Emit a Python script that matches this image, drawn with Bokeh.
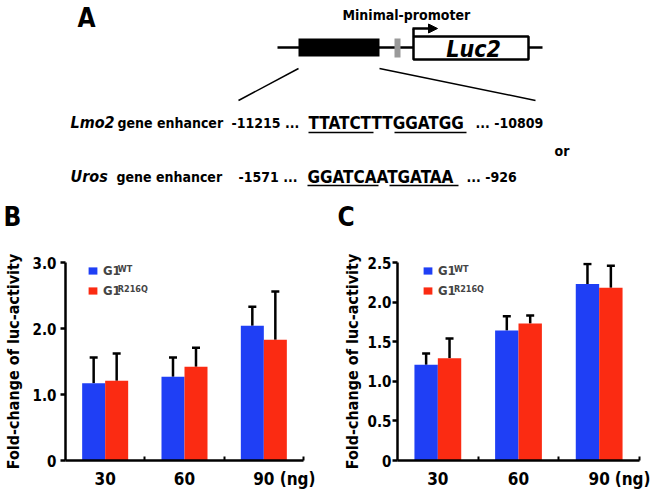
from bokeh.plotting import figure
from bokeh.models import (Range1d, FixedTicker, ColumnDataSource, Whisker, TeeHead,
                          Legend, LegendItem, Label, Arrow, NormalHead)
from bokeh.layouts import column, row
from bokeh.embed import file_html
from bokeh.resources import INLINE
from bokeh.core.properties import value

# ---------------- data ----------------
doses = ["30", "60", "90"]
dose_pos = [1, 2, 3]
unit_label = "(ng)"
series_labels = ["G1", "G1"]
series_sup = ["WT", "R216Q"]

wt_B = [1.17, 1.27, 2.04]
wt_B_sd = [0.39, 0.29, 0.29]
mut_B = [1.21, 1.42, 1.83]
mut_B_sd = [0.41, 0.29, 0.73]

wt_C = [1.21, 1.64, 2.23]
wt_C_sd = [0.14, 0.18, 0.25]
mut_C = [1.29, 1.73, 2.18]
mut_C_sd = [0.25, 0.10, 0.28]

yticks_B = [0, 1, 2, 3]
ylabels_B = ["0", "1.0", "2.0", "3.0"]
yticks_C = [0, 0.5, 1, 1.5, 2, 2.5]
ylabels_C = ["0", "0.5", "1.0", "1.5", "2.0", "2.5"]

FONT = "DejaVu Sans Condensed"
BLUE = "#1f3ff5"
RED = "#fb2b12"


def bar_panel(wt, wt_sd, mut, mut_sd, yticks, ylabels, bl, br, tick_sd, lab_sd,
              ng_x, leg_x, sup_x, sup_y):
    p = figure(width=325, height=263, x_range=Range1d(0.5, 3.5),
               y_range=Range1d(0, yticks[-1]), output_backend="svg", title=None,
               toolbar_location=None, min_border_left=bl, min_border_right=br,
               min_border_top=32, min_border_bottom=33)
    p.outline_line_color = None
    p.grid.visible = False
    off = 0.145
    w = 0.29
    src_wt = ColumnDataSource(dict(x=[d - off for d in dose_pos], top=wt,
                                   upper=[a + b for a, b in zip(wt, wt_sd)]))
    src_mut = ColumnDataSource(dict(x=[d + off for d in dose_pos], top=mut,
                                    upper=[a + b for a, b in zip(mut, mut_sd)]))
    for src in (src_wt, src_mut):
        p.add_layout(Whisker(base="x", lower="top", upper="upper", source=src,
                             dimension="height", line_width=2.5, line_color="black",
                             lower_head=None,
                             upper_head=TeeHead(size=8, line_width=2.5, line_color="black")))
    r1 = p.vbar(x="x", top="top", width=w, source=src_wt, fill_color=BLUE, line_color=None)
    r2 = p.vbar(x="x", top="top", width=w, source=src_mut, fill_color=RED, line_color=None)

    xa = p.xaxis[0]
    xa.ticker = FixedTicker(ticks=dose_pos + [ng_x], minor_ticks=[1.5, 2.5, 3.5])
    ov = {d: lab for d, lab in zip(dose_pos, doses)}
    ov[ng_x] = unit_label
    xa.major_label_overrides = ov
    xa.major_tick_in = 0
    xa.major_tick_out = 0
    xa.minor_tick_in = 4
    xa.minor_tick_out = 0
    xa.minor_tick_line_width = 2
    xa.axis_line_width = 2.5
    xa.major_label_standoff = 8
    xa.major_label_text_font = FONT
    xa.major_label_text_font_style = "bold"
    xa.major_label_text_font_size = "17px"
    xa.major_label_text_color = "black"

    ya = p.yaxis[0]
    ya.ticker = FixedTicker(ticks=yticks, minor_ticks=[])
    ya.major_label_overrides = {t: lab for t, lab in zip(yticks, ylabels)}
    ya.major_tick_out = 5
    ya.major_tick_in = 0
    ya.major_tick_line_width = 2.5
    ya.axis_line_width = 2.5
    ya.major_label_standoff = tick_sd
    ya.major_label_text_font = FONT
    ya.major_label_text_font_style = "bold"
    ya.major_label_text_font_size = "15px"
    ya.major_label_text_color = "black"
    ya.axis_label = "Fold-change of luc-activity"
    ya.axis_label_text_font = FONT
    ya.axis_label_text_font_style = "bold"
    ya.axis_label_text_font_size = "16px"
    ya.axis_label_text_color = "black"
    ya.axis_label_standoff = lab_sd

    legend = Legend(items=[LegendItem(label=series_labels[0], renderers=[r1]),
                           LegendItem(label=series_labels[1], renderers=[r2])],
                    location=(leg_x, 160), glyph_width=11, glyph_height=9,
                    label_height=19, spacing=1, padding=0, margin=0,
                    label_standoff=5, label_text_font=FONT,
                    label_text_font_style="bold", label_text_font_size="13px",
                    border_line_color=None, background_fill_alpha=0)
    p.add_layout(legend)
    for s, yy in zip(series_sup, sup_y):
        p.add_layout(Label(x=sup_x, y=yy, text=s, text_font=FONT, text_font_style="bold",
                           text_font_size="9px", text_baseline="middle"))
    return p


pB = bar_panel(wt_B, wt_B_sd, mut_B, mut_B_sd, yticks_B, ylabels_B,
               63, 22, 4, 7, 3.425, 22, 1.16, [2.902, 2.598])
pC = bar_panel(wt_C, wt_C_sd, mut_C, mut_C_sd, yticks_C, ylabels_C,
               72, 11, 1, 3, 3.43, 25, 1.20, [2.418, 2.165])

# ---------------- panel A (schematic, page-pixel coordinates) ----------------
top = figure(width=650, height=230, x_range=Range1d(0, 650), y_range=Range1d(230, 0),
             output_backend="svg", toolbar_location=None, min_border=0, title=None,
             x_axis_location=None, y_axis_location=None)
top.outline_line_color = None
top.grid.visible = False

# panel letters
top.text(x=[77, 3, 337], y=[17, 216, 216], text=["A", "B", "C"], text_font=value(FONT),
         text_font_style="bold", text_font_size="26px", text_baseline="middle")
# construct
top.line(x=[277, 542], y=[47, 47], line_width=2.5, line_color="black")
top.quad(left=[298], right=[379], top=[38], bottom=[56], fill_color="black", line_color=None)
top.quad(left=[394], right=[400], top=[38], bottom=[57], fill_color="#9a9a9a", line_color=None)
top.quad(left=[413], right=[528], top=[36], bottom=[59], fill_color="white",
         line_color="black", line_width=2.5)
top.text(x=[473], y=[48], text=["Luc2"], text_font=value(FONT), text_font_style="bold italic",
         text_font_size="23px", text_align="center", text_baseline="middle")
top.line(x=[413, 413], y=[36, 28], line_width=2.5, line_color="black")
top.add_layout(Arrow(x_start=412, y_start=28, x_end=437, y_end=28, line_width=2.5,
                     end=NormalHead(size=9, fill_color="black", line_color="black")))
top.text(x=[342], y=[14], text=["Minimal-promoter"], text_font=value(FONT),
         text_font_style="bold", text_font_size="14px", text_baseline="middle")
top.segment(x0=[298, 379], y0=[68, 68], x1=[238, 535], y1=[100, 100],
            line_width=1.5, line_color="black")

# sequence rows
top.text(x=[70, 70], y=[122, 176], text=["Lmo2", "Uros"], text_font=value(FONT),
         text_font_style="bold italic", text_font_size="16px", text_baseline="middle")
top.text(x=[117, 231, 475, 116, 238, 466, 554],
         y=[122, 122, 122, 176, 176, 176, 150],
         text=["gene enhancer", "-11215 ...", "... -10809",
               "gene enhancer", "-1571 ...", "... -926", "or"],
         text_font=value(FONT), text_font_style="bold", text_font_size="14px",
         text_baseline="middle")
top.text(x=[308, 307], y=[122, 176], text=["TTATCTTTGGATGG", "GGATCAATGATAA"],
         text_font=value(FONT), text_font_style="bold", text_font_size="17px",
         text_baseline="middle")
top.segment(x0=[308, 394, 307, 389], y0=[132, 132, 185, 185],
            x1=[373, 466, 378, 458], y1=[132, 132, 185, 185],
            line_width=1.5, line_color="black")

layout = column(top, row(pB, pC))
open("out.html", "w").write(file_html(layout, INLINE))
